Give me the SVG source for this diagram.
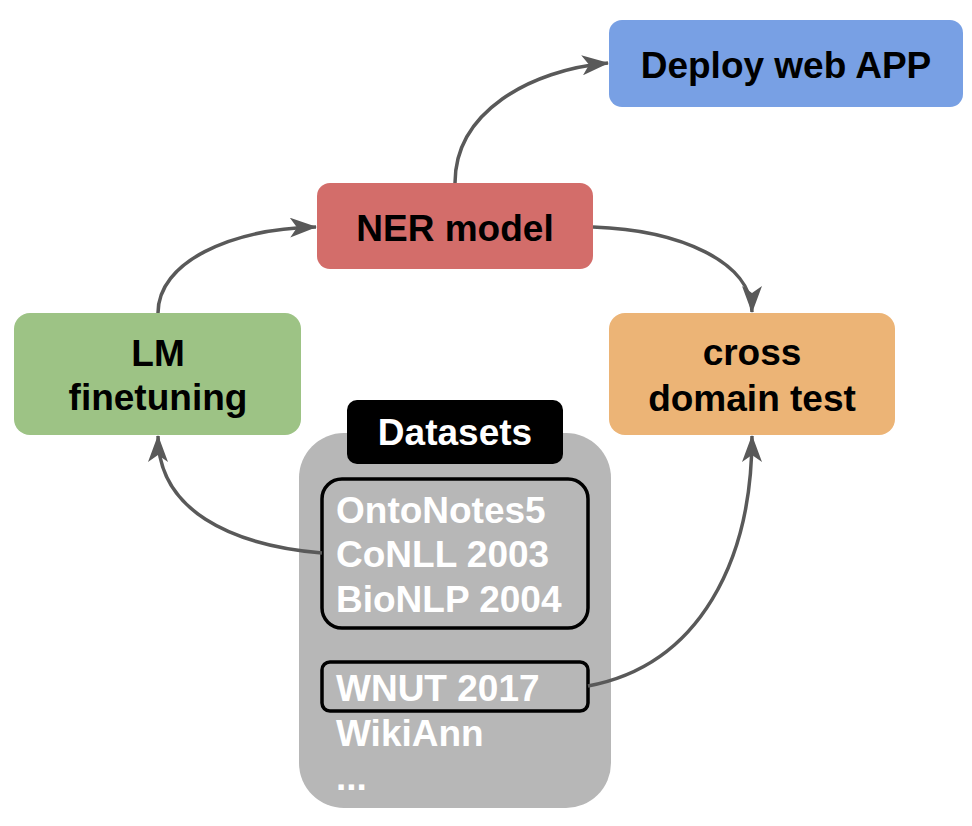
<svg xmlns="http://www.w3.org/2000/svg" width="972" height="826" viewBox="0 0 972 826">
<defs>
<style>
text{font-family:"Liberation Sans",Arial,sans-serif;font-weight:bold;font-size:37px}
.dark{fill:#000}
.light{fill:#fff}
.conn{fill:none;stroke:#595959;stroke-width:3.5}
</style>
<marker id="arr" markerUnits="userSpaceOnUse" viewBox="0 0 27 20" markerWidth="27" markerHeight="20" refX="26" refY="10" orient="auto">
<path d="M0,0 L27,10 L0,20 L7,10 Z" fill="#595959"/>
</marker>
</defs>
<rect width="972" height="826" fill="#fff"/>
<g id="datasets">
<rect x="299" y="433" width="312" height="375" rx="45" fill="#b7b7b7"/>
<rect x="347" y="400" width="216" height="64" rx="10" fill="#000"/>
<text class="light" x="455" y="445" text-anchor="middle">Datasets</text>
<rect x="322" y="479" width="266" height="149" rx="20" fill="none" stroke="#000" stroke-width="3.5"/>
<rect x="322" y="662" width="266" height="49" rx="8" fill="none" stroke="#000" stroke-width="3.5"/>
<text class="light" x="336" y="523">OntoNotes5</text>
<text class="light" x="336" y="567">CoNLL 2003</text>
<text class="light" x="336" y="612">BioNLP 2004</text>
<text class="light" x="336" y="701">WNUT 2017</text>
<text class="light" x="336" y="746">WikiAnn</text>
<text class="light" x="336" y="790">...</text>
</g>
<g id="ner">
<rect x="317" y="183" width="276" height="86" rx="13" fill="#d36d6a"/>
<text class="dark" x="455" y="241" text-anchor="middle">NER model</text>
</g>
<g id="deploy">
<rect x="609" y="20" width="354" height="87" rx="13" fill="#78a0e4"/>
<text class="dark" x="786" y="78" text-anchor="middle">Deploy web APP</text>
</g>
<g id="lm">
<rect x="14" y="313" width="287" height="122" rx="16" fill="#9dc385"/>
<text class="dark" x="158" y="366" text-anchor="middle">LM</text>
<text class="dark" x="158" y="410" text-anchor="middle">finetuning</text>
</g>
<g id="cross">
<rect x="609" y="313" width="286" height="122" rx="16" fill="#ecb476"/>
<text class="dark" x="752" y="365" text-anchor="middle">cross</text>
<text class="dark" x="752" y="411" text-anchor="middle">domain test</text>
</g>
<g id="connectors">
<path class="conn" d="M158,313 C158,262 230,229 316,227" marker-end="url(#arr)"/>
<path class="conn" d="M455,183 C455,112 530,70 608,63" marker-end="url(#arr)"/>
<path class="conn" d="M593,227 C680,230 752,262 752,312" marker-end="url(#arr)"/>
<path class="conn" d="M322,553 C230,545 158,510 158,436" marker-end="url(#arr)"/>
<path class="conn" d="M588,686 C700,665 752,560 752,436" marker-end="url(#arr)"/>
</g>
</svg>
